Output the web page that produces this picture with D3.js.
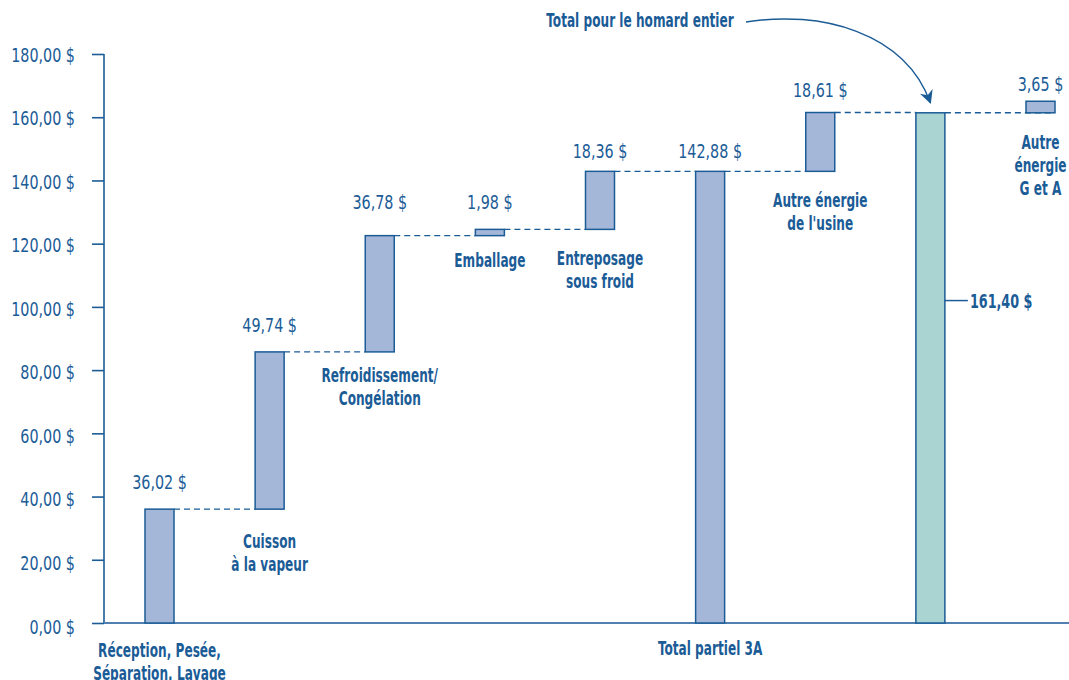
<!DOCTYPE html>
<html>
<head>
<meta charset="utf-8">
<script src="https://cdn.jsdelivr.net/npm/d3@7/dist/d3.min.js"></script>
<style>
  html, body { margin: 0; padding: 0; background: #ffffff; }
  svg { display: block; }
  .num { font-family: "DejaVu Sans Condensed", "Liberation Sans Narrow", sans-serif; }
  .lab { font-family: "DejaVu Sans Condensed", "Liberation Sans Narrow", sans-serif; font-weight: bold; }
</style>
</head>
<body>
<svg id="chart" width="1069" height="680"></svg>
<script>
// Energy cost steps for processing a whole lobster
const categories = [
  ["Réception, Pesée,", "Séparation, Lavage"],
  ["Cuisson", "à la vapeur"],
  ["Refroidissement/", "Congélation"],
  ["Emballage"],
  ["Entreposage", "sous froid"],
  ["Total partiel 3A"],
  ["Autre énergie", "de l'usine"],
  [],
  ["Autre", "énergie", "G et A"]
];
const values = [36.02, 49.74, 36.78, 1.98, 18.36, 142.88, 18.61, 161.40, 3.65];
const kinds = ["step", "step", "step", "step", "step", "total", "step", "total", "step"];
const valueLabels = ["36,02 $", "49,74 $", "36,78 $", "1,98 $", "18,36 $", "142,88 $", "18,61 $", "", "3,65 $"];
const yTicks = [0, 20, 40, 60, 80, 100, 120, 140, 160, 180];
const totalLabel = "161,40 $";
const annotation = "Total pour le homard entier";

const BLUE = "#1b5c97";
const BAR_FILL = "#a5b7d8";
const TOTAL_FILL = "#a9d4d2";
const NUM_SX = 0.84;   // horizontal squeeze for the regular condensed face
const LAB_SX = 0.71;   // horizontal squeeze for the bold labels

const svg = d3.select("#chart");

const y = d3.scaleLinear().domain([0, 180]).range([623, 54]);
const x = d3.scalePoint().domain(d3.range(values.length)).range([159.5, 1040.5]);
const barW = 29;

// squeezed text placed at (px, py)
function squeezed(parent, cls, px, py, size, sx, anchor) {
  return parent.append("text").attr("class", cls)
    .attr("transform", `translate(${px},${py}) scale(${sx},1)`)
    .attr("font-size", size).attr("fill", BLUE)
    .attr("text-anchor", anchor || "middle");
}

// running totals -> bar extents
let running = 0;
const bars = values.map((v, i) => {
  let lo, hi;
  if (kinds[i] === "total") { lo = 0; hi = v; }
  else { lo = running; hi = running + v; }
  running = hi;
  return { i, lo, hi, kind: kinds[i] };
});

// y axis
const fmt = d => d3.format(".2f")(d).replace(".", ",") + " $";
const yAxis = d3.axisLeft(y).tickValues(yTicks).tickSize(12).tickPadding(17).tickFormat(fmt);
const gy = svg.append("g").attr("transform", "translate(104,0)").call(yAxis);
gy.select(".domain").attr("stroke", BLUE).attr("stroke-width", 1.6).attr("d", `M0,${y(180)}V${y(0)}`);
gy.selectAll(".tick line").attr("stroke", BLUE).attr("stroke-width", 1.6);
gy.selectAll(".tick text").remove();
gy.selectAll(".tick").each(function (d) {
  squeezed(d3.select(this), "num", -29, 7 + (180 - d) / 60, 19, NUM_SX, "end").text(fmt(d));
});

// baseline
svg.append("line").attr("x1", 104).attr("x2", 1069).attr("y1", y(0)).attr("y2", y(0))
  .attr("stroke", "#4f80b0").attr("stroke-width", 1.8);

// dashed connectors between consecutive bars
for (let k = 0; k < bars.length - 1; k++) {
  const level = bars[k].hi;
  const endX = k === bars.length - 2 ? x(k + 1) + barW / 2 : x(k + 1) - barW / 2;
  svg.append("line")
    .attr("x1", x(k) + barW / 2).attr("x2", endX)
    .attr("y1", y(level)).attr("y2", y(level))
    .attr("stroke", BLUE).attr("stroke-width", 1.4).attr("stroke-dasharray", "6,4");
}

// bars
svg.append("g").selectAll("rect").data(bars).join("rect")
  .attr("x", d => x(d.i) - barW / 2)
  .attr("width", barW)
  .attr("y", d => y(d.hi))
  .attr("height", d => y(d.lo) - y(d.hi))
  .attr("fill", d => d.i === 7 ? TOTAL_FILL : BAR_FILL)
  .attr("stroke", BLUE).attr("stroke-width", 1.5);

// value labels above bars
const valueNudge = [20, 20, 27, 20, 13, 13, 16, 0, 10];
const gv = svg.append("g");
bars.filter(d => valueLabels[d.i]).forEach(d => {
  squeezed(gv, "num", x(d.i), y(d.hi) - valueNudge[d.i], 19, NUM_SX).text(valueLabels[d.i]);
});

// category labels under each bar (or under the baseline)
const catNudge = [34, 39, 30, 31, 36, 32, 36, 0, 36];
const lineH = 23;
const gc = svg.append("g");
bars.forEach(d => {
  const lines = categories[d.i];
  if (!lines.length) return;
  const t = squeezed(gc, "lab", x(d.i), y(d.lo) + catNudge[d.i], 19, LAB_SX);
  lines.forEach((s, j) => {
    t.append("tspan").attr("x", 0).attr("dy", j === 0 ? 0 : lineH).text(s);
  });
});

// total callout
const calloutY = y(102);
svg.append("line").attr("x1", x(7) + barW / 2).attr("x2", x(7) + barW / 2 + 23)
  .attr("y1", calloutY).attr("y2", calloutY).attr("stroke", BLUE).attr("stroke-width", 1.5);
squeezed(svg, "lab", x(7) + barW / 2 + 25, calloutY + 7, 20, LAB_SX, "start").text(totalLabel);

// annotation with curved arrow
svg.append("defs").append("marker")
  .attr("id", "head").attr("viewBox", "0 0 10 10").attr("refX", 9).attr("refY", 5)
  .attr("markerWidth", 9).attr("markerHeight", 9).attr("orient", "auto")
  .append("path").attr("d", "M0,0 L10,5 L0,10 L3,5 Z").attr("fill", BLUE);

squeezed(svg, "lab", 640, 27, 19, LAB_SX).text(annotation);

const ax = x(7), ay = y(bars[7].hi) - 10;
svg.append("path")
  .attr("d", `M746,22 C820,10 905,32 ${ax},${ay}`)
  .attr("fill", "none").attr("stroke", BLUE).attr("stroke-width", 1.5)
  .attr("marker-end", "url(#head)");
</script>
</body>
</html>
